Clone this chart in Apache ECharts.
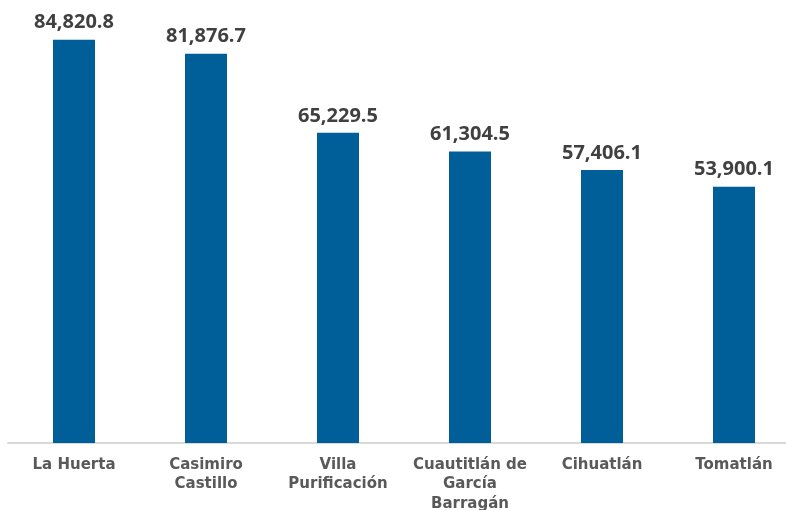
<!DOCTYPE html>
<html>
<head>
<meta charset="utf-8">
<script src="https://cdn.jsdelivr.net/npm/echarts@6/dist/echarts.min.js"></script>
<style>
  html, body { margin: 0; padding: 0; background: #fff; }
  #chart { width: 786px; height: 510px; }
</style>
</head>
<body>
<div id="chart"></div>
<script>
const categories = ['La Huerta', 'Casimiro\nCastillo', 'Villa\nPurificación', 'Cuautitlán de\nGarcía\nBarragán', 'Cihuatlán', 'Tomatlán']
const values = [84820.8, 81876.7, 65229.5, 61304.5, 57406.1, 53900.1]

const chart = echarts.init(document.getElementById('chart'))

chart.setOption({
  animation: false,
  grid: {
    left: 8,
    width: 792,
    top: 15,
    bottom: 67,
    outerBoundsMode: 'none'
  },
  xAxis: {
    type: 'category',
    data: categories,
    axisLine: { lineStyle: { color: '#d9d9d9', width: 2 } },
    axisTick: { show: false },
    axisLabel: {
      interval: 0,
      margin: 12,
      color: '#595959',
      fontFamily: 'DejaVu Sans',
      fontWeight: 'bold',
      fontSize: 15,
      lineHeight: 19.5
    }
  },
  yAxis: {
    type: 'value',
    min: 0,
    max: 90000,
    show: false,
    splitLine: { show: false }
  },
  series: [{
    type: 'bar',
    data: values,
    barWidth: 42,
    itemStyle: { color: '#005f99' },
    label: {
      show: true,
      position: 'top',
      distance: 7,
      color: '#404040',
      fontFamily: 'Open Sans',
      fontWeight: 'bold',
      fontSize: 20,
      formatter: p => p.value.toLocaleString('en-US', { minimumFractionDigits: 1, maximumFractionDigits: 1 })
    }
  }]
})
</script>
</body>
</html>
